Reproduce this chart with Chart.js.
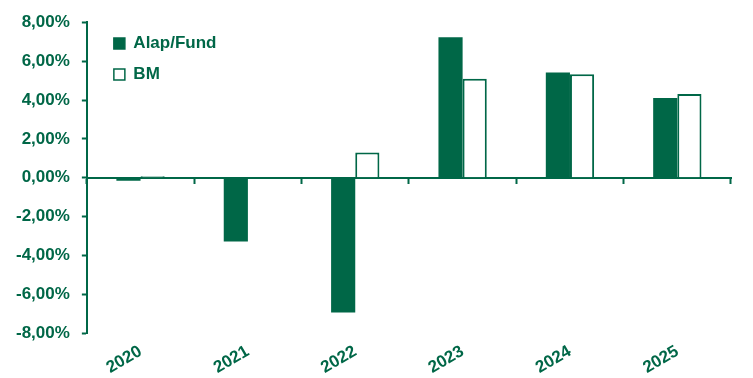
<!DOCTYPE html>
<html>
<head>
<meta charset="utf-8">
<script src="https://cdn.jsdelivr.net/npm/chart.js@4/dist/chart.umd.min.js"></script>
<style>
  html, body { margin: 0; padding: 0; background: #fff; }
  #wrap { width: 753px; height: 378px; }
</style>
</head>
<body>
<div id="wrap"><canvas id="perfChart"></canvas></div>
<script>
// data
var years = ['2020', '2021', '2022', '2023', '2024', '2025']
var fund = [-0.15, -3.28, -6.93, 7.22, 5.42, 4.10]
var bm = [0.08, 0.0, 1.30, 5.09, 5.33, 4.31]
var yTicks = [-8, -6, -4, -2, 0, 2, 4, 6, 8]

var green = '#006747'
var font = { family: 'Liberation Sans, Arial, sans-serif', weight: 'bold' }

function pct(v) {
    return v.toFixed(2).replace('.', ',') + '%'
}

// push the legend a bit into the plot, like the original
var legendShift = {
    id: 'legendShift',
    afterLayout: function (chart) {
        var lg = chart.legend
        if (!lg) return
        lg.left += 13; lg.right += 13
        lg.top += 21; lg.bottom += 21
    }
}

var ctx = document.getElementById('perfChart');
var myChart = new Chart(ctx, {
    type: 'bar',
    data: {
        labels: years,
        datasets: [{
            label: 'Alap/Fund',
            data: fund,
            backgroundColor: green,
            borderColor: green,
            borderWidth: 0
        }, {
            label: 'BM',
            data: bm,
            backgroundColor: '#ffffff',
            borderColor: green,
            borderWidth: 2
        }]
    },
    plugins: [legendShift],
    options: {
        responsive: true,
        maintainAspectRatio: false,
        animation: false,
        layout: { padding: { top: 19, right: 22, left: 4, bottom: 0 } },
        datasets: {
            bar: { barPercentage: 1, categoryPercentage: 0.45 }
        },
        plugins: {
            tooltip: { enabled: false },
            legend: {
                position: 'chartArea',
                align: 'start',
                labels: {
                    color: green,
                    font: Object.assign({ size: 17 }, font),
                    boxWidth: 11,
                    boxHeight: 11,
                    padding: 14,
                    generateLabels: function (chart) {
                        return chart.data.datasets.map(function (ds, i) {
                            return {
                                text: ds.label,
                                fillStyle: ds.backgroundColor,
                                strokeStyle: green,
                                lineWidth: 1.5,
                                fontColor: green,
                                datasetIndex: i
                            }
                        })
                    }
                }
            }
        },
        scales: {
            x: {
                grid: { display: false },
                border: { display: false },
                ticks: {
                    color: green,
                    font: Object.assign({ size: 17 }, font),
                    minRotation: 30,
                    maxRotation: 30,
                    padding: 0
                }
            },
            x2: {
                type: 'category',
                labels: years,
                position: { y: 0 },
                offset: true,
                grid: {
                    drawOnChartArea: false,
                    drawTicks: true,
                    tickLength: 5,
                    tickWidth: 2,
                    color: green,
                    offset: true
                },
                border: { color: green, width: 2 },
                ticks: { display: false }
            },
            y: {
                min: -8,
                max: 8,
                afterBuildTicks: function (axis) {
                    axis.ticks = yTicks.map(function (v) { return { value: v } })
                },
                grid: {
                    drawOnChartArea: false,
                    drawTicks: true,
                    tickLength: 5,
                    tickWidth: 2,
                    color: green
                },
                border: { color: green, width: 2 },
                ticks: {
                    color: green,
                    font: Object.assign({ size: 17 }, font),
                    padding: 12,
                    callback: function (v) { return pct(v) }
                }
            }
        }
    }
});
</script>
</body>
</html>
